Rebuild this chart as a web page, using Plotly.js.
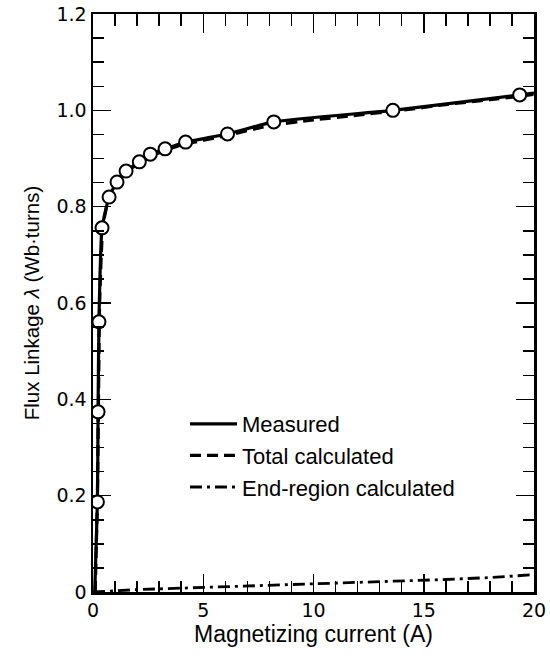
<!DOCTYPE html>
<html>
<head>
<meta charset="utf-8">
<script src="https://cdn.plot.ly/plotly-3.0.1.min.js"></script>
<style>html,body{margin:0;padding:0;background:#fff;}#chart{width:550px;height:658px;}</style>
</head>
<body>
<div id="chart"></div>
<script>
// Measured data points (circles)
const measuredI = [0.2, 0.23, 0.27, 0.41, 0.73, 1.09, 1.5, 2.1, 2.6, 3.27, 4.2, 6.1, 8.2, 13.6, 19.35];
const measuredL = [0.187, 0.374, 0.561, 0.756, 0.820, 0.851, 0.874, 0.893, 0.909, 0.920, 0.934, 0.951, 0.976, 1.000, 1.032];
// Measured curve
const measCurveI = [0.08, 0.2, 0.23, 0.27, 0.41, 0.73, 1.09, 1.5, 2.1, 2.6, 3.27, 4.2, 6.1, 8.2, 13.6, 19.35, 20];
const measCurveL = [0.0, 0.187, 0.374, 0.561, 0.756, 0.820, 0.851, 0.874, 0.893, 0.909, 0.920, 0.934, 0.951, 0.976, 1.000, 1.032, 1.036];
// Total calculated
const totalI = [0.1, 0.2, 0.25, 0.3, 0.45, 0.7, 1, 1.5, 2, 3, 4, 6, 8, 10, 12, 14, 16, 18, 20];
const totalL = [0.0, 0.2, 0.4, 0.6, 0.76, 0.815, 0.845, 0.870, 0.888, 0.912, 0.928, 0.947, 0.968, 0.980, 0.990, 1.000, 1.012, 1.022, 1.033];
// End-region calculated
const endI = [0, 1, 2, 4, 6, 8, 10, 12, 14, 16, 18, 20];
const endL = [0.0, 0.003, 0.005, 0.008, 0.011, 0.013, 0.016, 0.019, 0.022, 0.026, 0.030, 0.036];
// Tick labels
const xTickVals = [0, 5, 10, 15, 20];
const xTickText = ['0', '5', '10', '15', '20'];
const yTickVals = [0, 0.2, 0.4, 0.6, 0.8, 1.0, 1.2];
const yTickText = ['0', '0.2', '0.4', '0.6', '0.8', '1.0', '1.2'];

const FONT = 'Liberation Sans, Arial, Helvetica, sans-serif';
const TFONT = 'DejaVu Sans, Liberation Sans, sans-serif';

// invisible carrier traces so the tick-only overlay axes are drawn
function carrier(xa, ya) {
  return {x: endI, y: endL, xaxis: xa, yaxis: ya, mode: 'lines', showlegend: false, hoverinfo: 'skip',
          line: {color: 'rgba(0,0,0,0)', width: 0}};
}

const traces = [
  {x: measCurveI, y: measCurveL, mode: 'lines', name: 'Measured', legendgroup: 'a',
   line: {color: '#000', width: 3.2, shape: 'spline', smoothing: 0.5}},
  {x: totalI, y: totalL, mode: 'lines', name: 'Total calculated', legendgroup: 'b',
   line: {color: '#000', width: 3.2, dash: '11px,6px', shape: 'spline', smoothing: 0.5}},
  {x: endI, y: endL, mode: 'lines', name: 'End-region calculated', legendgroup: 'c',
   line: {color: '#000', width: 2.8, dash: '12px,5px,3px,5px'}},
  {x: measuredI, y: measuredL, mode: 'markers', showlegend: false,
   marker: {symbol: 'circle', size: 13, color: '#fff', line: {color: '#000', width: 2}}},
  carrier('x2', 'y2'),
  carrier('x3', 'y2'),
  carrier('x4', 'y2')
];

const tickOnly = {showgrid: false, zeroline: false, showline: false, showticklabels: false,
                  ticks: 'inside', tickwidth: 1.5, tickcolor: '#000'};

const layout = {
  width: 550, height: 658,
  margin: {l: 93, r: 16, t: 14, b: 66},
  paper_bgcolor: '#fff', plot_bgcolor: '#fff',
  font: {family: FONT, color: '#000', size: 20},
  showlegend: true,
  legend: {x: 0.2086, y: 0.327, xanchor: 'left', yanchor: 'top', bgcolor: 'rgba(0,0,0,0)',
           font: {size: 22, family: FONT}, tracegroupgap: 9, itemwidth: 47, traceorder: 'normal'},
  xaxis: {
    range: [0, 20], showgrid: false, zeroline: false,
    showline: true, linecolor: '#000', linewidth: 2.5, mirror: 'ticks',
    ticks: 'inside', ticklen: 18, tickwidth: 1.5, tickcolor: '#000',
    tickmode: 'array', tickvals: xTickVals, ticktext: xTickText,
    tickfont: {size: 19, family: TFONT},
    title: {text: 'Magnetizing current (A)', font: {size: 23, family: FONT}, standoff: 5}
  },
  xaxis2: Object.assign({range: [0, 20], overlaying: 'x', side: 'bottom', anchor: 'y2',
    ticklen: 11, tickmode: 'linear', tick0: 0, dtick: 1}, tickOnly),
  xaxis3: Object.assign({range: [0, 20], overlaying: 'x', side: 'top', anchor: 'y2',
    ticklen: 19, tickmode: 'array', tickvals: xTickVals}, tickOnly),
  xaxis4: Object.assign({range: [0, 20], overlaying: 'x', side: 'top', anchor: 'y2',
    ticklen: 12, tickmode: 'linear', tick0: 0, dtick: 1}, tickOnly),
  yaxis: {
    range: [0, 1.2], showgrid: false, zeroline: false,
    showline: true, linecolor: '#000', linewidth: 2.5, mirror: 'ticks',
    ticks: 'inside', ticklen: 18, tickwidth: 1.5, tickcolor: '#000',
    tickmode: 'array', tickvals: yTickVals, ticktext: yTickText,
    tickfont: {size: 19, family: TFONT},
    title: {text: 'Flux Linkage <i>λ</i> (Wb·turns)', font: {size: 20.5, family: FONT}, standoff: 12}
  },
  yaxis2: Object.assign({range: [0, 1.2], overlaying: 'y', side: 'left', anchor: 'x2', mirror: 'ticks',
    ticklen: 11, tickmode: 'linear', tick0: 0, dtick: 0.05}, tickOnly)
};

Plotly.newPlot('chart', traces, layout, {displayModeBar: false, staticPlot: true});
</script>
</body>
</html>
